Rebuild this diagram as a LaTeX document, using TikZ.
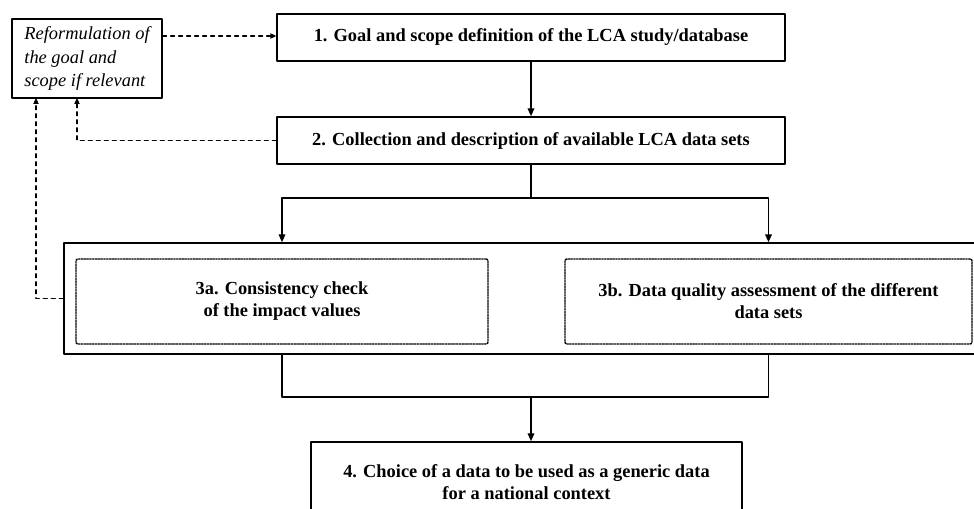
\documentclass[tikz,border=0pt]{standalone}
\usepackage{fontspec}
\setmainfont{Liberation Serif}
\usetikzlibrary{arrows.meta}

\begin{document}
\begin{tikzpicture}[x=0.75pt,y=-0.75pt,>={Triangle[length=6pt,width=5pt]},line cap=round,line join=round,
  txt/.style={font=\fontsize{13.8}{16.5}\selectfont\bfseries,align=center},
  stepbox/.style={txt,draw,line width=1.1pt,inner sep=0pt},
  subbox/.style={txt,draw,densely dotted,line width=1.1pt,rounded corners=1.5pt,inner sep=0pt},
  flow/.style={->,line width=1.2pt},
  back/.style={->,dashed,line width=.8pt,>={Triangle[length=4.5pt,width=4pt]}}]
  \useasboundingbox (0,0) rectangle (974,509);
  % boxes
  \node[draw,line width=.9pt,align=left,inner sep=0pt,minimum width=112.5pt,minimum height=59.25pt,
    font=\fontsize{13.8}{17.5}\selectfont\itshape] (ref) at (87,58.5)
    {Reformulation of\\the goal and\\scope if relevant};
  \node[stepbox,minimum width=381pt,minimum height=35.25pt] (goal) at (531,37.5)
    {1. Goal and scope definition of the LCA study/database};
  \node[stepbox,minimum width=381pt,minimum height=35.25pt] (collect) at (531,140.5)
    {2. Collection and description of available LCA data sets};
  \node[draw,line width=1.1pt,minimum width=685.5pt,minimum height=83.25pt] (check) at (521,298.5) {};
  \node[subbox,minimum width=309pt,minimum height=63.75pt] (consist) at (282,301.5)
    {3a. Consistency check\\of the impact values};
  \node[subbox,minimum width=305.25pt,minimum height=63.75pt] (quality) at (768.5,301.5)
    {3b. Data quality assessment of the different\\data sets};
  \node[stepbox,minimum width=323.25pt,minimum height=60pt] (choice) at (526.5,482)
    {4. Choice of a data to be used as a generic data\\for a national context};
  % solid flow
  \draw[flow] (goal) -- (collect);
  \draw[flow] (collect.south) -- ++(0,33) -| (consist.north |- check.north);
  \draw[flow] (collect.south) -- ++(0,33) -| (quality.north |- check.north);
  \coordinate (join) at (531,397);
  \draw[line width=1.2pt] (consist.south |- check.south) |- (join)
    -| (quality.south |- check.south);
  \draw[flow] (join) -- (join |- choice.north);
  % dashed feedback
  \coordinate (fb2) at (77,98);
  \coordinate (fb3) at (36,98);
  \draw[back] (ref.east |- 0,36) -- (goal.west |- 0,36);
  \draw[back] (collect.west) -| (fb2);
  \draw[back] (check.west) -| (fb3);
\end{tikzpicture}
\end{document}
